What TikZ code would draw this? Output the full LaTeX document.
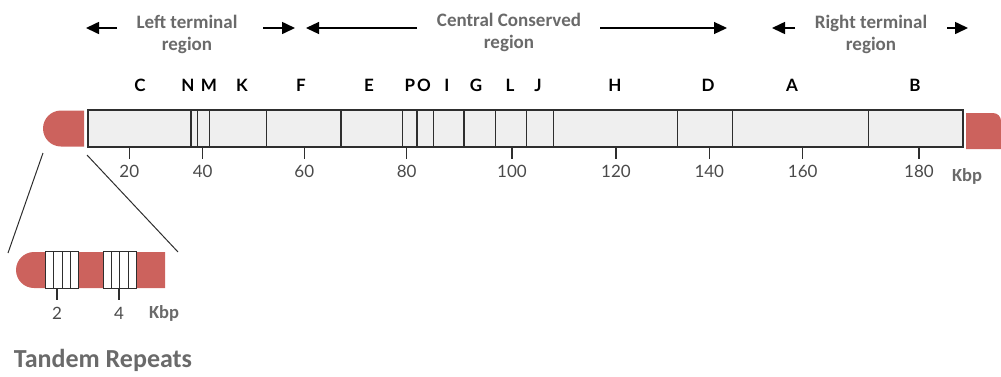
\documentclass[tikz,border=0pt]{standalone}
\usepackage{fontspec}
\setmainfont{Carlito}
\newfontfamily\genefont{Lato}
\usetikzlibrary{arrows.meta,shapes.misc}
\definecolor{capred}{HTML}{CC625D}
\definecolor{barfill}{HTML}{EFEFEF}
\definecolor{headgray}{HTML}{6A6A6A}
\definecolor{numgray}{HTML}{4A4A4A}
\definecolor{edge}{HTML}{2E2E2E}
\begin{document}
\begin{tikzpicture}[x=1pt,y=-1pt,
  heading/.style={font=\bfseries\fontsize{19}{21.5}\selectfont, text=headgray, align=center},
  gene/.style={font=\genefont\bfseries\fontsize{17}{20}\selectfont, text=black},
  num/.style={font=\genefont\fontsize{17}{20}\selectfont, text=numgray},
  unitlbl/.style={font=\bfseries\fontsize{18.5}{20}\selectfont, text=headgray},
  title/.style={font=\bfseries\fontsize{26}{30}\selectfont, text=headgray},
  span/.style={line width=1.6pt, -{Triangle[length=13pt,width=12pt]}},
  seg/.style={draw=edge, line width=1.3pt},
  tick/.style={draw=edge, line width=1.3pt},
  capend/.style={rounded rectangle, rounded rectangle right arc=none,
    fill=capred, inner sep=0pt},
  repeatbox/.style={draw=edge, line width=0.8pt, fill=white},
  zoomline/.style={draw=edge, line width=1pt}]
\useasboundingbox (0,0) rectangle (1001,376);

% region headings with their extent arrows
\node[heading] (lt) at (187,34.5) {Left terminal\\region};
\node[heading] (cc) at (509,32.5) {Central Conserved\\region};
\node[heading] (rt) at (871,34.5) {Right terminal\\region};
\coordinate (ltA) at (117,28); \coordinate (ltAt) at (86,28);
\coordinate (ltB) at (263,28); \coordinate (ltBt) at (295,28);
\coordinate (ccA) at (417,28); \coordinate (ccAt) at (306,28);
\coordinate (ccB) at (600,28); \coordinate (ccBt) at (727,28);
\coordinate (rtA) at (795,28); \coordinate (rtAt) at (772,28);
\coordinate (rtB) at (947,28); \coordinate (rtBt) at (968,28);
\draw[span] (ltA) -- (ltAt);
\draw[span] (ltB) -- (ltBt);
\draw[span, line width=1.2pt] (ccA) -- (ccAt);
\draw[span, line width=1.2pt] (ccB) -- (ccBt);
\draw[span] (rtA) -- (rtAt);
\draw[span] (rtB) -- (rtBt);

% fragment letters
\foreach \x/\g in {140/C,188/N,209/M,242/K,301/F,369/E,410/P,424/O,447/I,
                   476/G,510/L,538/J,615/H,708/D,792/A,915/B}
  \node[gene] (gene\g) at (\x,85) {\g};

% genome bar with fragment boundaries
\coordinate (barNW) at (88,110); \coordinate (barSE) at (963,147);
\draw[seg, fill=barfill] (barNW) rectangle (barSE);
\foreach \x in {191,197.3,209.3,266.7,341,402.7,417,433.7,464,495.3,
                526.7,553.3,677.3,732.7,868.7}
  \draw[seg] (\x,110) -- (\x,147);

% scale
\foreach \x/\n in {129.3/20,202.7/40,304.3/60,406.7/80,512/100,616/120,
                   709.3/140,802.7/160,919/180}{
  \draw[tick] (\x,147) -- (\x,159);
  \node[num] (tick\n) at (\x,171) {\n};
}
\node[unitlbl] (kbp) at (967,176) {Kbp};

% terminal ends
\node[capend, minimum width=41pt, minimum height=36pt] (lcap) at (63.5,128.5) {};
\fill[capred] (966,149) -- (966,113) -- (993,113)
  .. controls (997.4,113) and (1001,116.6) .. (1001,121) -- (1001,149) -- cycle;

% enlarged left end
\node[capend, minimum width=149pt, minimum height=36pt] (inset) at (90.5,270) {};
\coordinate (zA) at (43,153); \coordinate (zA2) at (8,253);
\coordinate (zB) at (87,155); \coordinate (zB2) at (178,252);
\draw[zoomline] (zA) -- (zA2);
\draw[zoomline] (zB) -- (zB2);

\foreach \a/\b/\i/\j/\k in {45/78/53.5/62/70.5, 103/136/111/119.5/128}{
  \draw[repeatbox] (\a,251) rectangle (\b,288);
  \draw[draw=edge, line width=0.8pt] (\i,251) -- (\i,288) (\j,251) -- (\j,288) (\k,251) -- (\k,288);
}
\draw[tick] (57,288) -- (57,300);
\draw[tick] (119,288) -- (119,300);
\node[num] (rep2) at (57,313) {2};
\node[num] (rep4) at (119,313) {4};
\node[unitlbl] (kbpsmall) at (164,313) {Kbp};

\node[title] (tandem) at (103,360) {Tandem Repeats};
\end{tikzpicture}
\end{document}
